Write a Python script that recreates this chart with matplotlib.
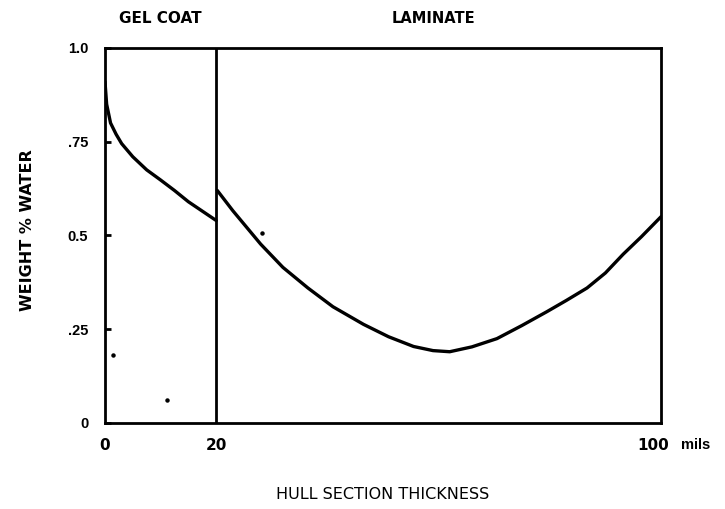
import matplotlib.pyplot as plt
from matplotlib.transforms import ScaledTranslation

# gel coat segment (0-20 mils)
gel_x = [0, 0.3, 1, 2, 3, 5, 7.5, 10, 12.5, 15, 17.5, 20]
gel_y = [0.91, 0.85, 0.80, 0.77, 0.745, 0.71, 0.675, 0.648, 0.62, 0.59, 0.565, 0.54]

# laminate segment (20-100 mils)
lam_x = [20.2, 23, 28, 32, 36.5, 41, 46.5, 51, 55.5, 59, 62, 66, 70.5, 75, 79.5, 83, 86.7, 90, 93.2, 96.5, 100]
lam_y = [0.62, 0.566, 0.477, 0.415, 0.36, 0.31, 0.263, 0.23, 0.204, 0.193, 0.19, 0.203, 0.225, 0.26, 0.297, 0.327, 0.36, 0.40, 0.45, 0.497, 0.55]

# stray specks from the scanned original
speck_x = [28.2, 11.1, 1.4]
speck_y = [0.507, 0.06, 0.18]

x_ticks = [0, 20, 100]
x_tick_labels = ['0', '20', '100']
y_ticks = [0, 0.25, 0.5, 0.75, 1.0]
y_tick_labels = ['0', '.25', '0.5', '.75', '1.0']

plt.rcParams['font.family'] = ['Liberation Sans', 'DejaVu Sans']

fig = plt.figure(figsize=(7.25, 5.09), dpi=100)
ax = fig.add_axes([0.1448, 0.169, 0.7669, 0.7367])

ax.plot(gel_x, gel_y, color='black', lw=2.4, solid_capstyle='round')
ax.plot(lam_x, lam_y, color='black', lw=2.4, solid_capstyle='round')
ax.plot(speck_x, speck_y, 'o', color='black', ms=2.2)
ax.axvline(20, color='black', lw=2.0)

ax.set_xlim(0, 100)
ax.set_ylim(0, 1.0)
for s in ax.spines.values():
    s.set_linewidth(2.0)

ax.set_xticks(x_ticks)
ax.set_xticklabels(x_tick_labels, fontsize=11, fontweight='bold', family='DejaVu Sans')
ax.set_yticks(y_ticks)
ax.set_yticklabels(y_tick_labels, fontsize=10.5, fontweight='bold')
ax.tick_params(axis='x', length=0, pad=11)
ax.tick_params(axis='y', direction='in', length=4, width=2, pad=12)

# shift the "100" label left and add the units
lbl = ax.get_xticklabels()[-1]
lbl.set_transform(lbl.get_transform() + ScaledTranslation(-8 / 100, 0, fig.dpi_scale_trans))
ax.annotate('mils', xy=(100, 0), xycoords='data', xytext=(25, -16), textcoords='offset points',
            ha='center', va='center', fontsize=10.5, fontweight='bold')

ax.set_xlabel('HULL SECTION THICKNESS', fontsize=11.5, family='DejaVu Sans', va='center')
ax.xaxis.set_label_coords(0.5, -0.192)
ax.set_ylabel('WEIGHT % WATER', fontsize=11.5, fontweight='bold', family='DejaVu Sans', va='center')
ax.yaxis.set_label_coords(-0.140, 0.515)

ax.text(10, 1.08, 'GEL COAT', ha='center', va='center', fontsize=11, fontweight='bold', family='DejaVu Sans')
ax.text(59, 1.08, 'LAMINATE', ha='center', va='center', fontsize=10.5, fontweight='bold', family='DejaVu Sans')

fig.savefig('out.png', dpi=100)
